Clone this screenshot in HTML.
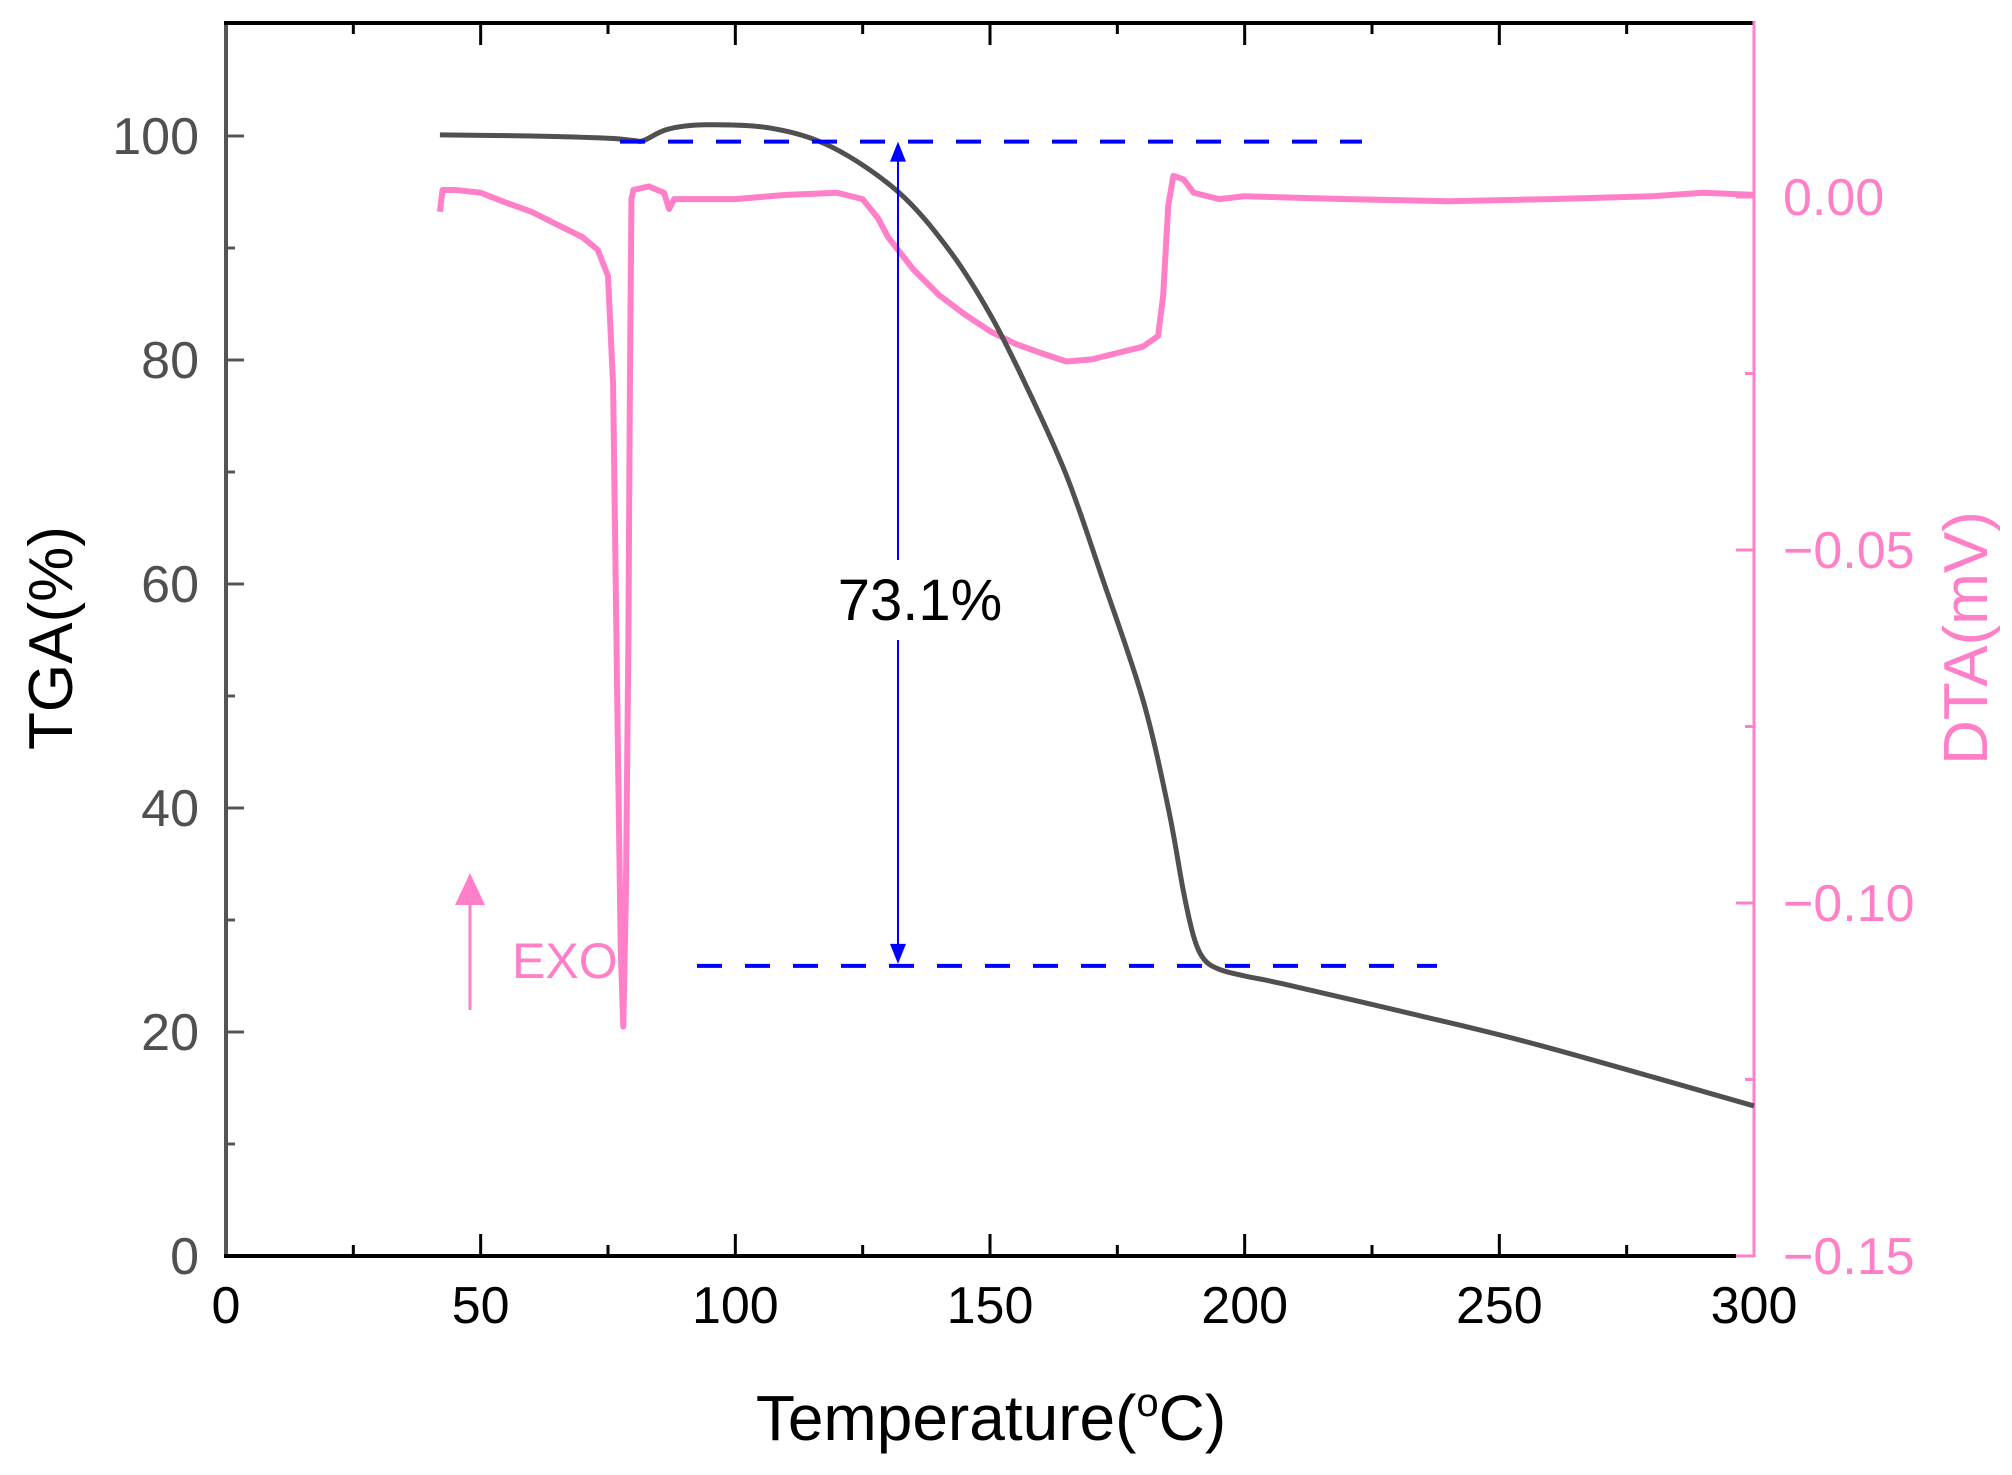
<!DOCTYPE html>
<html><head><meta charset="utf-8"><style>
html,body{margin:0;padding:0;background:#fff;}
svg{display:block;font-family:"Liberation Sans",Arial,sans-serif;}
</style></head><body>
<svg id="chart" width="2012" height="1475" viewBox="0 0 2012 1475" xmlns="http://www.w3.org/2000/svg">
<g id="ticks"></g>
<g id="series"></g>
<g id="annot"></g>
</svg>
<script>
const xTicks=[0,50,100,150,200,250,300];
const tgaTicks=[0,20,40,60,80,100];
const dtaTicks=[0.00,-0.05,-0.10,-0.15];
const dtaTickLabels=["0.00","\u22120.05","\u22120.10","\u22120.15"];
const tgaT=[42,60,75,80,82,86.7,94,107,119,132,142,150,157,165,172,180,185,188,190,192,195,200,207.5,233,258,300];
const tgaV=[100.1,100.0,99.8,99.6,99.6,100.6,101.0,100.7,99.0,95.0,89.8,84.1,77.8,69.7,60.6,49.7,40.0,32.5,28.5,26.5,25.6,25.0,24.3,21.6,18.8,13.4];
const dtaT=[42,42.5,45,50,55,60,65,70,73,75,76,76.5,77,77.5,78,78.5,79,79.3,79.6,80,83,86,87,88,90,100,110,120,125,128,130,135,140,145,150,155,160,165,170,175,180,183,184,185,186,188,190,195,200,220,240,260,280,290,300];
const dtaV=[-0.0021,0.0010,0.0010,0.0006,-0.0008,-0.0021,-0.0039,-0.0057,-0.0075,-0.0112,-0.0266,-0.0539,-0.0811,-0.1066,-0.1175,-0.0993,-0.0630,-0.0266,-0.0003,0.0010,0.0015,0.0006,-0.0017,-0.0003,-0.0003,-0.0003,0.0003,0.0006,-0.0003,-0.0030,-0.0057,-0.0103,-0.0139,-0.0166,-0.0190,-0.0208,-0.0221,-0.0233,-0.0230,-0.0221,-0.0212,-0.0197,-0.0139,-0.0012,0.0030,0.0025,0.0006,-0.0003,0.0001,-0.0003,-0.0006,-0.0003,0.0001,0.0006,0.0003];
const lossStart=99.5, lossEnd=25.9, lossLabel="73.1%";

const NS="http://www.w3.org/2000/svg";
const X0=226,X1=1754,YB=1256,YT=23;
const xs=t=>X0+(t-0)/(300)*(X1-X0);
const ys=v=>YB-v*11.2;
const yd=v=>YB-(v+0.15)/0.05*353;
function mk(tag,attrs,parent){const e=document.createElementNS(NS,tag);for(const k in attrs)e.setAttribute(k,attrs[k]);parent.appendChild(e);return e;}
function smooth(pts){let d='M'+pts[0][0]+','+pts[0][1];
 for(let i=0;i<pts.length-1;i++){const p0=pts[Math.max(0,i-1)],p1=pts[i],p2=pts[i+1],p3=pts[Math.min(pts.length-1,i+2)];
 const c1=[p1[0]+(p2[0]-p0[0])/6,p1[1]+(p2[1]-p0[1])/6],c2=[p2[0]-(p3[0]-p1[0])/6,p2[1]-(p3[1]-p1[1])/6];
 d+=` C${c1[0]},${c1[1]} ${c2[0]},${c2[1]} ${p2[0]},${p2[1]}`;}return d;}
const T=document.getElementById('ticks'),S=document.getElementById('series'),A=document.getElementById('annot');
let e;
e=mk('line',{x1:X0,y1:YT,x2:X0,y2:YB,stroke:'#555',"stroke-width":4},T);

e=mk('line',{x1:X0-2,y1:YT,x2:X1,y2:YT,stroke:'#000',"stroke-width":4},T);

e=mk('line',{x1:X0-2,y1:YB,x2:X1-18,y2:YB,stroke:'#000',"stroke-width":4},T);

e=mk('line',{x1:X1-18,y1:YB,x2:X1,y2:YB,stroke:'#ff80c8',"stroke-width":3},T);
e=mk('line',{x1:X1,y1:YT-2,x2:X1,y2:YB+1,stroke:'#ff80c8',"stroke-width":3},T);

for(let t=0;t<=300;t+=25){const maj=t%50===0;const x=xs(t);
 if(t>0&&t<300){mk('line',{x1:x,y1:YB,x2:x,y2:YB-(maj?22:11),stroke:'#000',"stroke-width":3},T);
 mk('line',{x1:x,y1:YT,x2:x,y2:YT+(maj?22:11),stroke:'#000',"stroke-width":3},T);}}
xTicks.forEach(t=>{e=mk('text',{x:xs(t),y:1323,"text-anchor":"middle","font-size":52,fill:'#000'},T);e.textContent=t;
});
for(let v=0;v<=100;v+=10){const maj=v%20===0;const y=ys(v);
 if(v>0)mk('line',{x1:X0,y1:y,x2:X0+(maj?18:9),y2:y,stroke:'#555',"stroke-width":3},T);}
tgaTicks.forEach(v=>{e=mk('text',{x:199,y:ys(v)+18,"text-anchor":"end","font-size":52,fill:'#505050'},T);e.textContent=v;
});
for(let k=0;k<7;k++){const v=-0.15+k*0.025;const maj=k%2===0;const y=yd(v);
 if(k>0)mk('line',{x1:X1,y1:y,x2:X1-(maj?18:9),y2:y,stroke:'#ff80c8',"stroke-width":3},T);}
dtaTicks.forEach((v,i)=>{e=mk('text',{x:1783,y:yd(v)+18,"text-anchor":"start","font-size":52,fill:'#ff80c8'},T);e.textContent=dtaTickLabels[i];
});
e=mk('text',{x:0,y:0,transform:'translate(72,638) rotate(-90)',"text-anchor":"middle","font-size":62,fill:'#000'},T);e.textContent='TGA(%)';

e=mk('text',{x:0,y:0,transform:'translate(1987,638) rotate(-90)',"text-anchor":"middle","font-size":62,fill:'#ff80c8'},T);e.textContent='DTA(mV)';

e=mk('text',{x:991,y:1440,"text-anchor":"middle","font-size":64,fill:'#000'},T);
e.innerHTML='Temperature(<tspan font-size="40" dy="-24">o</tspan><tspan dy="24">C</tspan>)';

e=mk('polyline',{points:dtaT.map((t,i)=>xs(t)+','+yd(dtaV[i])).join(' '),fill:'none',stroke:'#ff80c8',"stroke-width":6,"stroke-linejoin":"round"},S);

e=mk('path',{d:smooth(tgaT.map((t,i)=>[xs(t),ys(tgaV[i])])),fill:'none',stroke:'#505050',"stroke-width":5,"stroke-linejoin":"round"},S);

e=mk('line',{x1:620,y1:ys(lossStart),x2:1362,y2:ys(lossStart),stroke:'#0000ff',"stroke-width":4,"stroke-dasharray":"25 23"},A);

e=mk('line',{x1:697,y1:ys(lossEnd),x2:1437,y2:ys(lossEnd),stroke:'#0000ff',"stroke-width":4,"stroke-dasharray":"25 23"},A);

const ax=898,ay1=ys(lossStart),ay2=ys(lossEnd);
mk('line',{x1:ax,y1:ay1+18,x2:ax,y2:560,stroke:'#0000ff',"stroke-width":2},A);
mk('line',{x1:ax,y1:640,x2:ax,y2:ay2-18,stroke:'#0000ff',"stroke-width":2},A);
e=mk('polygon',{points:`${ax},${ay1} ${ax-8},${ay1+20} ${ax+8},${ay1+20}`,fill:'#0000ff'},A);

e=mk('polygon',{points:`${ax},${ay2-2} ${ax-8},${ay2-22} ${ax+8},${ay2-22}`,fill:'#0000ff'},A);

e=mk('text',{x:920,y:620,"text-anchor":"middle","font-size":58,fill:'#000'},A);e.textContent=lossLabel;

mk('line',{x1:470,y1:1010,x2:470,y2:900,stroke:'#ff80c8',"stroke-width":3},A);
e=mk('polygon',{points:'470,873 455,905 485,905',fill:'#ff80c8'},A);

e=mk('text',{x:512,y:978,"font-size":50,fill:'#ff80c8'},A);e.textContent='EXO';

</script>
</body></html>
